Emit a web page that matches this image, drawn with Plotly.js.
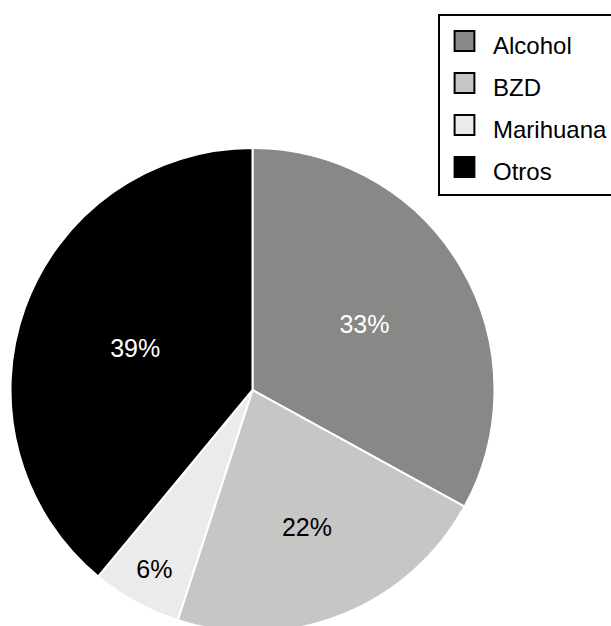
<!DOCTYPE html>
<html>
<head>
<meta charset="utf-8">
<script src="https://cdn.plot.ly/plotly-3.0.1.min.js"></script>
<style>
html, body { margin: 0; padding: 0; overflow: hidden; background: #fff; }
#chart { width: 660px; height: 640px; }
</style>
</head>
<body>
<div id="chart"></div>
<script>
const labels = ["Alcohol", "BZD", "Marihuana", "Otros"];
const values = [33, 22, 6, 39];
const colors = ["#888886", "#c6c7c5", "#ebebeb", "#000000"];
const textColors = ["#ffffff", "#000000", "#000000", "#ffffff"];

const W = 660, H = 640;
const legendLabels = labels.map(l => '<span style="font-size:24px">' + l + '</span>');

const trace = {
  type: "pie",
  labels: legendLabels,
  values: values,
  sort: false,
  direction: "clockwise",
  rotation: 0,
  marker: { colors: colors, line: { color: "#ffffff", width: 2 } },
  textinfo: "percent",
  textposition: "inside",
  insidetextorientation: "horizontal",
  textfont: { family: "Liberation Sans, Arial, sans-serif", size: 25, color: textColors },
  hoverinfo: "label+percent",
  domain: { x: [10 / W, 495 / W], y: [(H - 632) / H, (H - 148) / H] }
};

const layout = {
  width: W,
  height: H,
  margin: { l: 0, r: 0, t: 0, b: 0, autoexpand: false },
  paper_bgcolor: "#ffffff",
  showlegend: true,
  legend: {
    x: 438 / W, xanchor: "left",
    y: (H - 14) / H, yanchor: "top",
    bordercolor: "#000000", borderwidth: 2,
    bgcolor: "#ffffff",
    itemwidth: 43,
    font: { family: "Liberation Sans, Arial, sans-serif", size: 30, color: "#000000" },
    traceorder: "normal"
  }
};

Plotly.newPlot("chart", [trace], layout, { displayModeBar: false, staticPlot: true }).then(gd => {
  gd.querySelectorAll(".legend .legendpoints path").forEach(p => {
    const t = p.getAttribute("transform") || "";
    p.setAttribute("transform", t + " translate(-2,-1) scale(1.65)");
    p.style.stroke = "#000000";
    p.style.strokeWidth = "1.2px";
  });
});
</script>
</body>
</html>
